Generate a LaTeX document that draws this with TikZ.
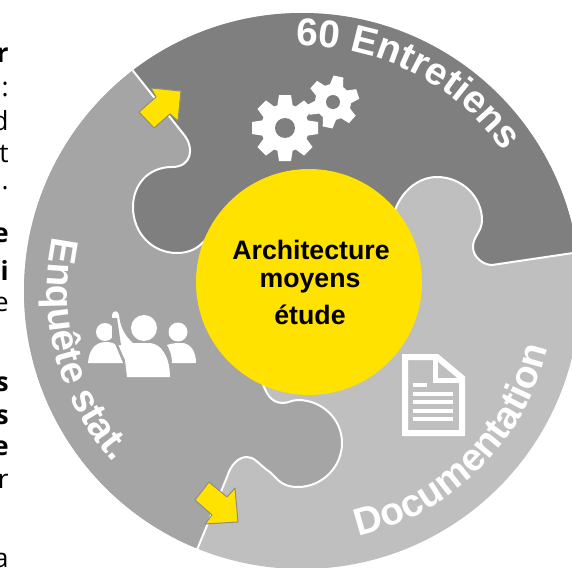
\documentclass[tikz,border=0pt]{standalone}
\usepackage{fontspec}
\setmainfont{Liberation Sans}
\newfontfamily\sidefont{Open Sans}
\usetikzlibrary{positioning, decorations.text}

\definecolor{darkpiece}{HTML}{7F7F7F}
\definecolor{midpiece}{HTML}{A5A5A5}
\definecolor{lightpiece}{HTML}{BFBFBF}
\definecolor{eyyellow}{HTML}{FFE200}
\definecolor{arrowline}{HTML}{8F8F78}

\newcommand{\seamA}{(130,67) -- (185,136) .. controls (194,148) and (192,167) .. (172,167) .. controls (148,167) and (133,185) .. (133,207) .. controls (133,233) and (152,253) .. (177,253) .. controls (190,253) and (199,248) .. (207,238)}
\newcommand{\seamB}{(395,210) .. controls (403,189) and (420,177) .. (437,177) .. controls (462,177) and (482,197) .. (482,220) .. controls (482,232) and (473,236) .. (473,247) .. controls (473,257) and (483,265) .. (492,265) -- (600,249)}
\newcommand{\seamC}{(262,382) .. controls (266,392) and (270,403) .. (283,403) .. controls (288,403) and (292,400) .. (298,400) .. controls (322,400) and (342,419) .. (342,443) .. controls (342,467) and (322,487) .. (298,487) .. controls (278,487) and (276,475) .. (267,470) .. controls (258,463) and (254,457) .. (247,457) .. controls (237,457) and (230,467) .. (227,477) -- (194,557)}
\newcommand{\arcfont}{\fontsize{22}{26}\selectfont\bfseries\color{white}}

\tikzset{
  seam/.style = {draw = white, line width = 0.04cm},
  blockarrow/.style = {fill = eyyellow, draw = arrowline, line width = 0.02cm, line join = round},
  center label/.style = {font = \fontsize{15.2}{18}\selectfont\bfseries},
  side label/.style = {anchor = east, inner sep = 0pt, font = \sidefont\fontsize{15}{18}\selectfont},
  side bold/.style = {side label, font = \sidefont\fontsize{15}{18}\selectfont\bfseries},
  docline/.style = {draw = white, line width = 0.08cm}
}

\begin{document}
\begin{tikzpicture}[x = 0.02cm, y = -0.02cm]
    \useasboundingbox (0,0) rectangle (572,568);

    \begin{scope}
        \clip (302,291) circle (278);
        \fill[lightpiece] (0,0) rectangle (640,640);
        \fill[darkpiece] \seamA -- (309,282) -- \seamB -- (640,0) -- (130,0) -- cycle;
        \fill[midpiece] \seamA -- (309,282) -- \seamC -- (0,570) -- (0,67) -- cycle;
    \end{scope}
    \draw[seam] \seamA;
    \draw[seam] \seamB;
    \draw[seam] \seamC;

    \fill[eyyellow] (309,282) circle (113);
    \node[center label] at (311,250) (A) {Architecture};
    \node[center label] at (310,283) (B) {moyens};
    \node[center label] at (310,315) (C) {étude};

    \draw[blockarrow] (181,91) -- (151,88) -- (156,97) -- (139,112) -- (154,128) -- (170,114) -- (178,121) -- cycle;
    \draw[blockarrow] (238,522) -- (205,524) -- (212,515) -- (195,500) -- (209,482) -- (227,497) -- (235,488) -- cycle;

    \begin{scope}[shift = {(285,128)}]
        \fill[white] (0,0) circle (24);
        \foreach \a in {0,45,...,315}
            \fill[white, rotate = \a] (-6,-33) -- (6,-33) -- (8,-20) -- (-8,-20) -- cycle;
        \fill[darkpiece] (0,0) circle (10);
    \end{scope}
    \begin{scope}[shift = {(333,102)}]
        \fill[white] (0,0) circle (18);
        \foreach \a in {-12,48,...,288}
            \fill[white, rotate = \a] (-5,-26) -- (5,-26) -- (7,-15) -- (-7,-15) -- cycle;
        \fill[darkpiece] (0,0) circle (7);
    \end{scope}

    \fill[white] (144,328) circle (13);
    \fill[white] (127,377) -- (125,360) .. controls (118,345) and (112,330) .. (112,315) .. controls (113,310) and (118,310) .. (119,315) .. controls (120,328) and (126,337) .. (133,343) -- (150,343) .. controls (162,344) and (170,358) .. (170,377) -- cycle;
    \fill[white] (105,332) circle (9);
    \fill[midpiece] (117,318) -- (121,345) -- (112,345) -- (112,318) -- cycle;
    \fill[white] (88,363) .. controls (89,350) and (95,342) .. (106,342) .. controls (110,342) and (113,343) .. (115,344) -- (123,363) -- cycle;
    \fill[white] (178,332) circle (9.5);
    \fill[white] (172,363) .. controls (172,356) and (170,350) .. (167,345) .. controls (172,343) and (178,343) .. (183,343) .. controls (191,344) and (196,352) .. (196,363) -- cycle;

    \draw[draw = white, line width = 0.12cm, line join = miter] (405,357) -- (437,357) -- (462,378) -- (462,433) -- (405,433) -- cycle;
    \draw[draw = white, line width = 0.1cm] (435,357) -- (435,380) -- (462,380);
    \draw[docline] (413,385) -- (427,385);
    \foreach \y in {394,402,411,419}
        \draw[docline] (413,\y) -- (453,\y);

    \begin{scope}[shift = {(302,291)}, x = 1cm, y = 1cm]
        \path[decorate, decoration = {text along path, text align = center,
            text = {|\arcfont|60 Entretiens}}] (91:4.9) arc (91:35:4.9);
        \path[decorate, decoration = {text along path, text align = center,
            text = {|\arcfont|Enquête stat.}}] (168:5.1) arc (168:222:5.1);
        \path[decorate, decoration = {text along path, text align = center,
            text = {|\arcfont|Documentation}}] (-78:5.04) arc (-78:-12:5.04);
    \end{scope}

    \node[side bold] at (9,55) (L1) {r};
    \node[side label] at (9,89) (L2) {:};
    \node[side label] at (9,121) (L3) {d};
    \node[side label] at (9,154) (L4) {t};
    \node[side label] at (9,188) (L5) {.};
    \node[side bold] at (9,235) (L6) {e};
    \node[side bold] at (9,270) (L7) {i};
    \node[side label] at (9,304) (L8) {e};
    \node[side bold] at (9,384) (L9) {s};
    \node[side bold] at (9,417) (L10) {s};
    \node[side bold] at (9,448) (L11) {e};
    \node[side label] at (9,481) (L12) {r};
    \node[side label] at (9,560) (L13) {a};
\end{tikzpicture}
\end{document}
